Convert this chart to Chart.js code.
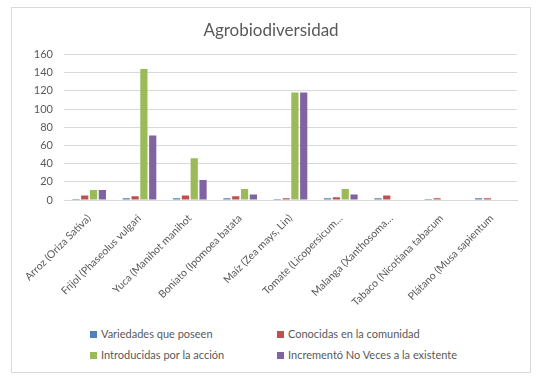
<!DOCTYPE html>
<html>
<head>
<meta charset="utf-8">
<script src="https://cdn.jsdelivr.net/npm/chart.js@4"></script>
<style>
    body { margin: 0; background: #fff; }
    #frame {
        position: absolute; left: 11px; top: 7px; width: 518px; height: 364px;
        border: 1px solid #d9d9d9; background: #fff;
    }
    #box { position: absolute; left: 0; top: 0; width: 518px; height: 312px; }
    #legend {
        position: absolute; left: 78px; top: 319px; width: 430px;
        display: grid; grid-template-columns: 187px 240px; row-gap: 8px;
        font: 11px Lato, "Open Sans", sans-serif; color: #595959;
    }
    #legend span.sw { display: inline-block; width: 7px; height: 7px; margin-right: 4px; }
</style>
</head>
<body>
<div id="frame">
    <div id="box"><canvas id="agroChart"></canvas></div>
    <div id="legend"></div>
</div>
<script>
// Cultivos (etiquetas tal como aparecen en el eje)
const cultivos = [
    "Arroz (Oriza Sativa)", "Frijol (Phaseolus vulgari", "Yuca (Manihot manihot",
    "Boniato (Ipomoea batata", "Maíz (Zea mays, Lin)", "Tomate (Licopersicum…",
    "Malanga (Xanthosoma…", "Tabaco (Nicotiana tabacum", "Plátano (Musa sapientum"
];
const variedades = [1, 2, 2, 2, 1, 2, 2, 1, 2];
const conocidas = [5, 4, 5, 4, 2, 3, 5, 2, 2];
const introducidas = [11, 144, 46, 12, 118, 12, 0, 0, 0];
const incremento = [11, 71, 22, 6, 118, 6, 0, 0, 0];

const series = [
    { label: "Variedades que poseen", data: variedades, color: "#4f81bd" },
    { label: "Conocidas en la comunidad", data: conocidas, color: "#c0504d" },
    { label: "Introducidas por la acción", data: introducidas, color: "#9bbb59" },
    { label: "Incrementó No Veces a la existente", data: incremento, color: "#8064a2" }
];

const gris = "#595959";
const fuente = "Lato, 'Open Sans', sans-serif";

new Chart(document.getElementById("agroChart"), {
    type: "bar",
    data: {
        labels: cultivos,
        datasets: series.map(s => ({
            label: s.label,
            data: s.data,
            backgroundColor: s.color,
            categoryPercentage: 0.7,
            barPercentage: 0.82,
        })),
    },
    options: {
        responsive: true,
        maintainAspectRatio: false,
        animation: false,
        layout: { padding: { left: 13, right: 13, top: 0, bottom: 0 } },
        plugins: {
            legend: { display: false },
            tooltip: { enabled: false },
            title: {
                display: true,
                text: "Agrobiodiversidad",
                color: gris,
                font: { family: fuente, size: 17, weight: "normal" },
                padding: { top: 12, bottom: 14 },
            },
        },
        scales: {
            x: {
                afterFit: s => { s.height = 120; },
                grid: { display: false },
                border: { color: "#d9d9d9" },
                ticks: {
                    color: gris, font: { family: fuente, size: 10.5 },
                    minRotation: 45, maxRotation: 45, autoSkip: false, padding: 4,
                },
            },
            y: {
                min: 0, max: 160,
                afterFit: s => { s.width = 39; },
                grid: { color: "#d9d9d9", drawTicks: false },
                border: { display: false },
                ticks: { stepSize: 20, color: gris, font: { family: fuente, size: 11 }, padding: 11 },
            },
        },
    },
});

// Leyenda en dos columnas
const leyenda = document.getElementById("legend");
series.forEach(s => {
    const item = document.createElement("div");
    item.innerHTML = '<span class="sw" style="background:' + s.color + '"></span>' + s.label;
    leyenda.appendChild(item);
});
</script>
</body>
</html>
